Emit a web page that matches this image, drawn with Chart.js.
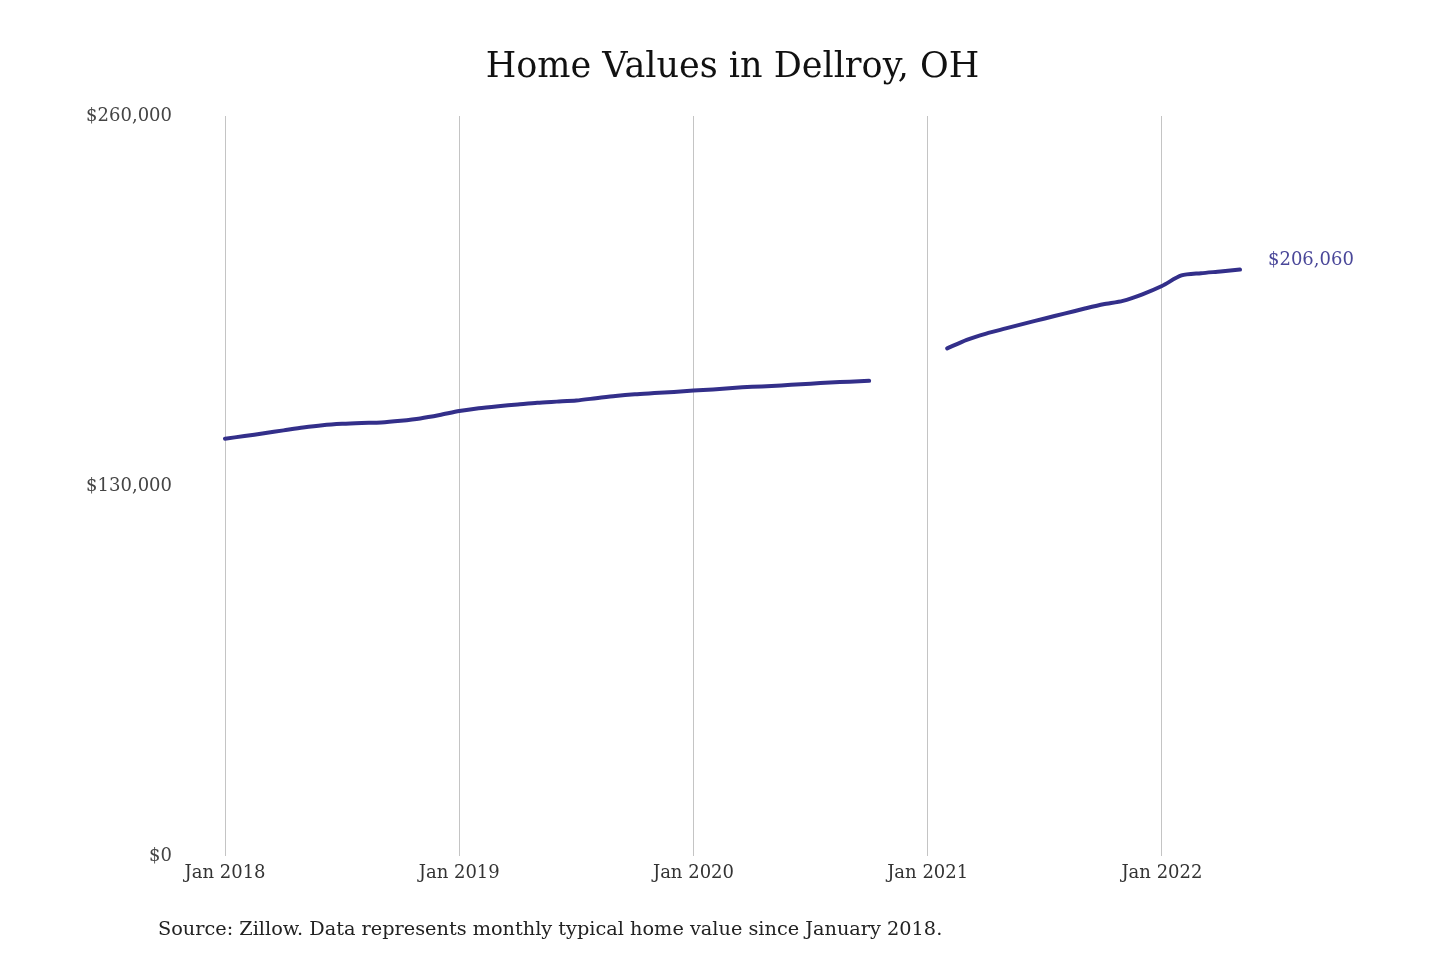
<!DOCTYPE html>
<html>
<head>
<meta charset="utf-8">
<script src="https://cdn.jsdelivr.net/npm/chart.js@4.4.1/dist/chart.umd.min.js"></script>
<style>
    body { margin: 0; background: #fff; }
    #wrap { position: relative; width: 1440px; height: 960px; }
    #source {
        position: absolute; left: 158px; top: 917px;
        font-family: 'DejaVu Serif', serif; font-size: 19.3px; color: #222;
    }
</style>
</head>
<body>
<div id="wrap">
    <canvas id="lineChart"></canvas>
    <div id="source">Source: Zillow. Data represents monthly typical home value since January 2018.</div>
</div>
<script>
// month labels, Jan 2018 - May 2022
var monthNames = ['Jan', 'Feb', 'Mar', 'Apr', 'May', 'Jun', 'Jul', 'Aug', 'Sep', 'Oct', 'Nov', 'Dec'];
var years = [2018, 2019, 2020, 2021, 2022];
var lastMonthOf2022 = 5;

// typical home value, null where no data was reported
var homeValues = [
    146700, 147600, 148600, 149600, 150600, 151400, 151900, 152200, 152400, 153000, 153800, 155000,
    156400, 157400, 158100, 158700, 159300, 159700, 160100, 160900, 161700, 162300, 162700, 163100,
    163600, 164000, 164500, 164900, 165200, 165600, 166000, 166400, 166700, 167000, null, null,
    null, 178400, 181400, 183600, 185400, 187200, 188900, 190600, 192300, 193900, 195100, 197400,
    200300, 204000, 204800, 205400, 206060
];

var yTicks = [0, 130000, 260000];

var labels = [];
years.forEach(function (y) {
    var n = (y === 2022) ? lastMonthOf2022 : 12;
    for (var m = 0; m < n; m++) labels.push(monthNames[m] + ' ' + y);
});

var lineColor = '#332f8a';
var serif = "'DejaVu Serif', serif";

// value label next to the last point
var endLabel = {
    id: 'endLabel',
    afterDatasetsDraw: function (chart) {
        var meta = chart.getDatasetMeta(0);
        var pt = meta.data[meta.data.length - 1];
        var v = homeValues[homeValues.length - 1];
        var ctx = chart.ctx;
        ctx.save();
        ctx.font = '18px ' + serif;
        ctx.fillStyle = '#4a4799';
        ctx.textAlign = 'left';
        ctx.textBaseline = 'middle';
        ctx.fillText('$' + v.toLocaleString('en-US'), pt.x + 28, pt.y - 9);
        ctx.restore();
    }
};

var ctx = document.getElementById('lineChart').getContext('2d');
new Chart(ctx, {
    type: 'line',
    data: {
        labels: labels,
        datasets: [{
            data: homeValues,
            borderColor: lineColor,
            borderWidth: 4,
            borderCapStyle: 'round',
            pointRadius: 0,
            tension: 0.25,
            spanGaps: false,
            fill: false
        }]
    },
    options: {
        responsive: true,
        maintainAspectRatio: false,
        animation: false,
        layout: { padding: { left: 60, right: 200, top: 20, bottom: 70 } },
        plugins: {
            legend: { display: false },
            tooltip: { enabled: false },
            title: {
                display: true,
                text: 'Home Values in Dellroy, OH',
                fullSize: false,
                color: '#111',
                font: { family: serif, size: 35, weight: 'normal' },
                padding: { top: 27, bottom: 27 }
            }
        },
        scales: {
            x: {
                ticks: {
                    autoSkip: false,
                    maxRotation: 0,
                    padding: 6,
                    color: '#333',
                    font: { family: serif, size: 18 },
                    callback: function (value, index) {
                        return index % 12 === 0 ? labels[index] : null;
                    }
                },
                grid: { color: '#c4c4c4', lineWidth: 1, drawTicks: false },
                border: { display: false }
            },
            y: {
                min: 0,
                max: 260000,
                afterBuildTicks: function (scale) {
                    scale.ticks = yTicks.map(function (v) { return { value: v }; });
                },
                afterFit: function (scale) { scale.width = 165; },
                ticks: {
                    padding: 45,
                    color: '#444',
                    font: { family: serif, size: 18 },
                    callback: function (value) { return '$' + value.toLocaleString('en-US'); }
                },
                grid: { display: false },
                border: { display: false }
            }
        }
    },
    plugins: [endLabel]
});
</script>
</body>
</html>
